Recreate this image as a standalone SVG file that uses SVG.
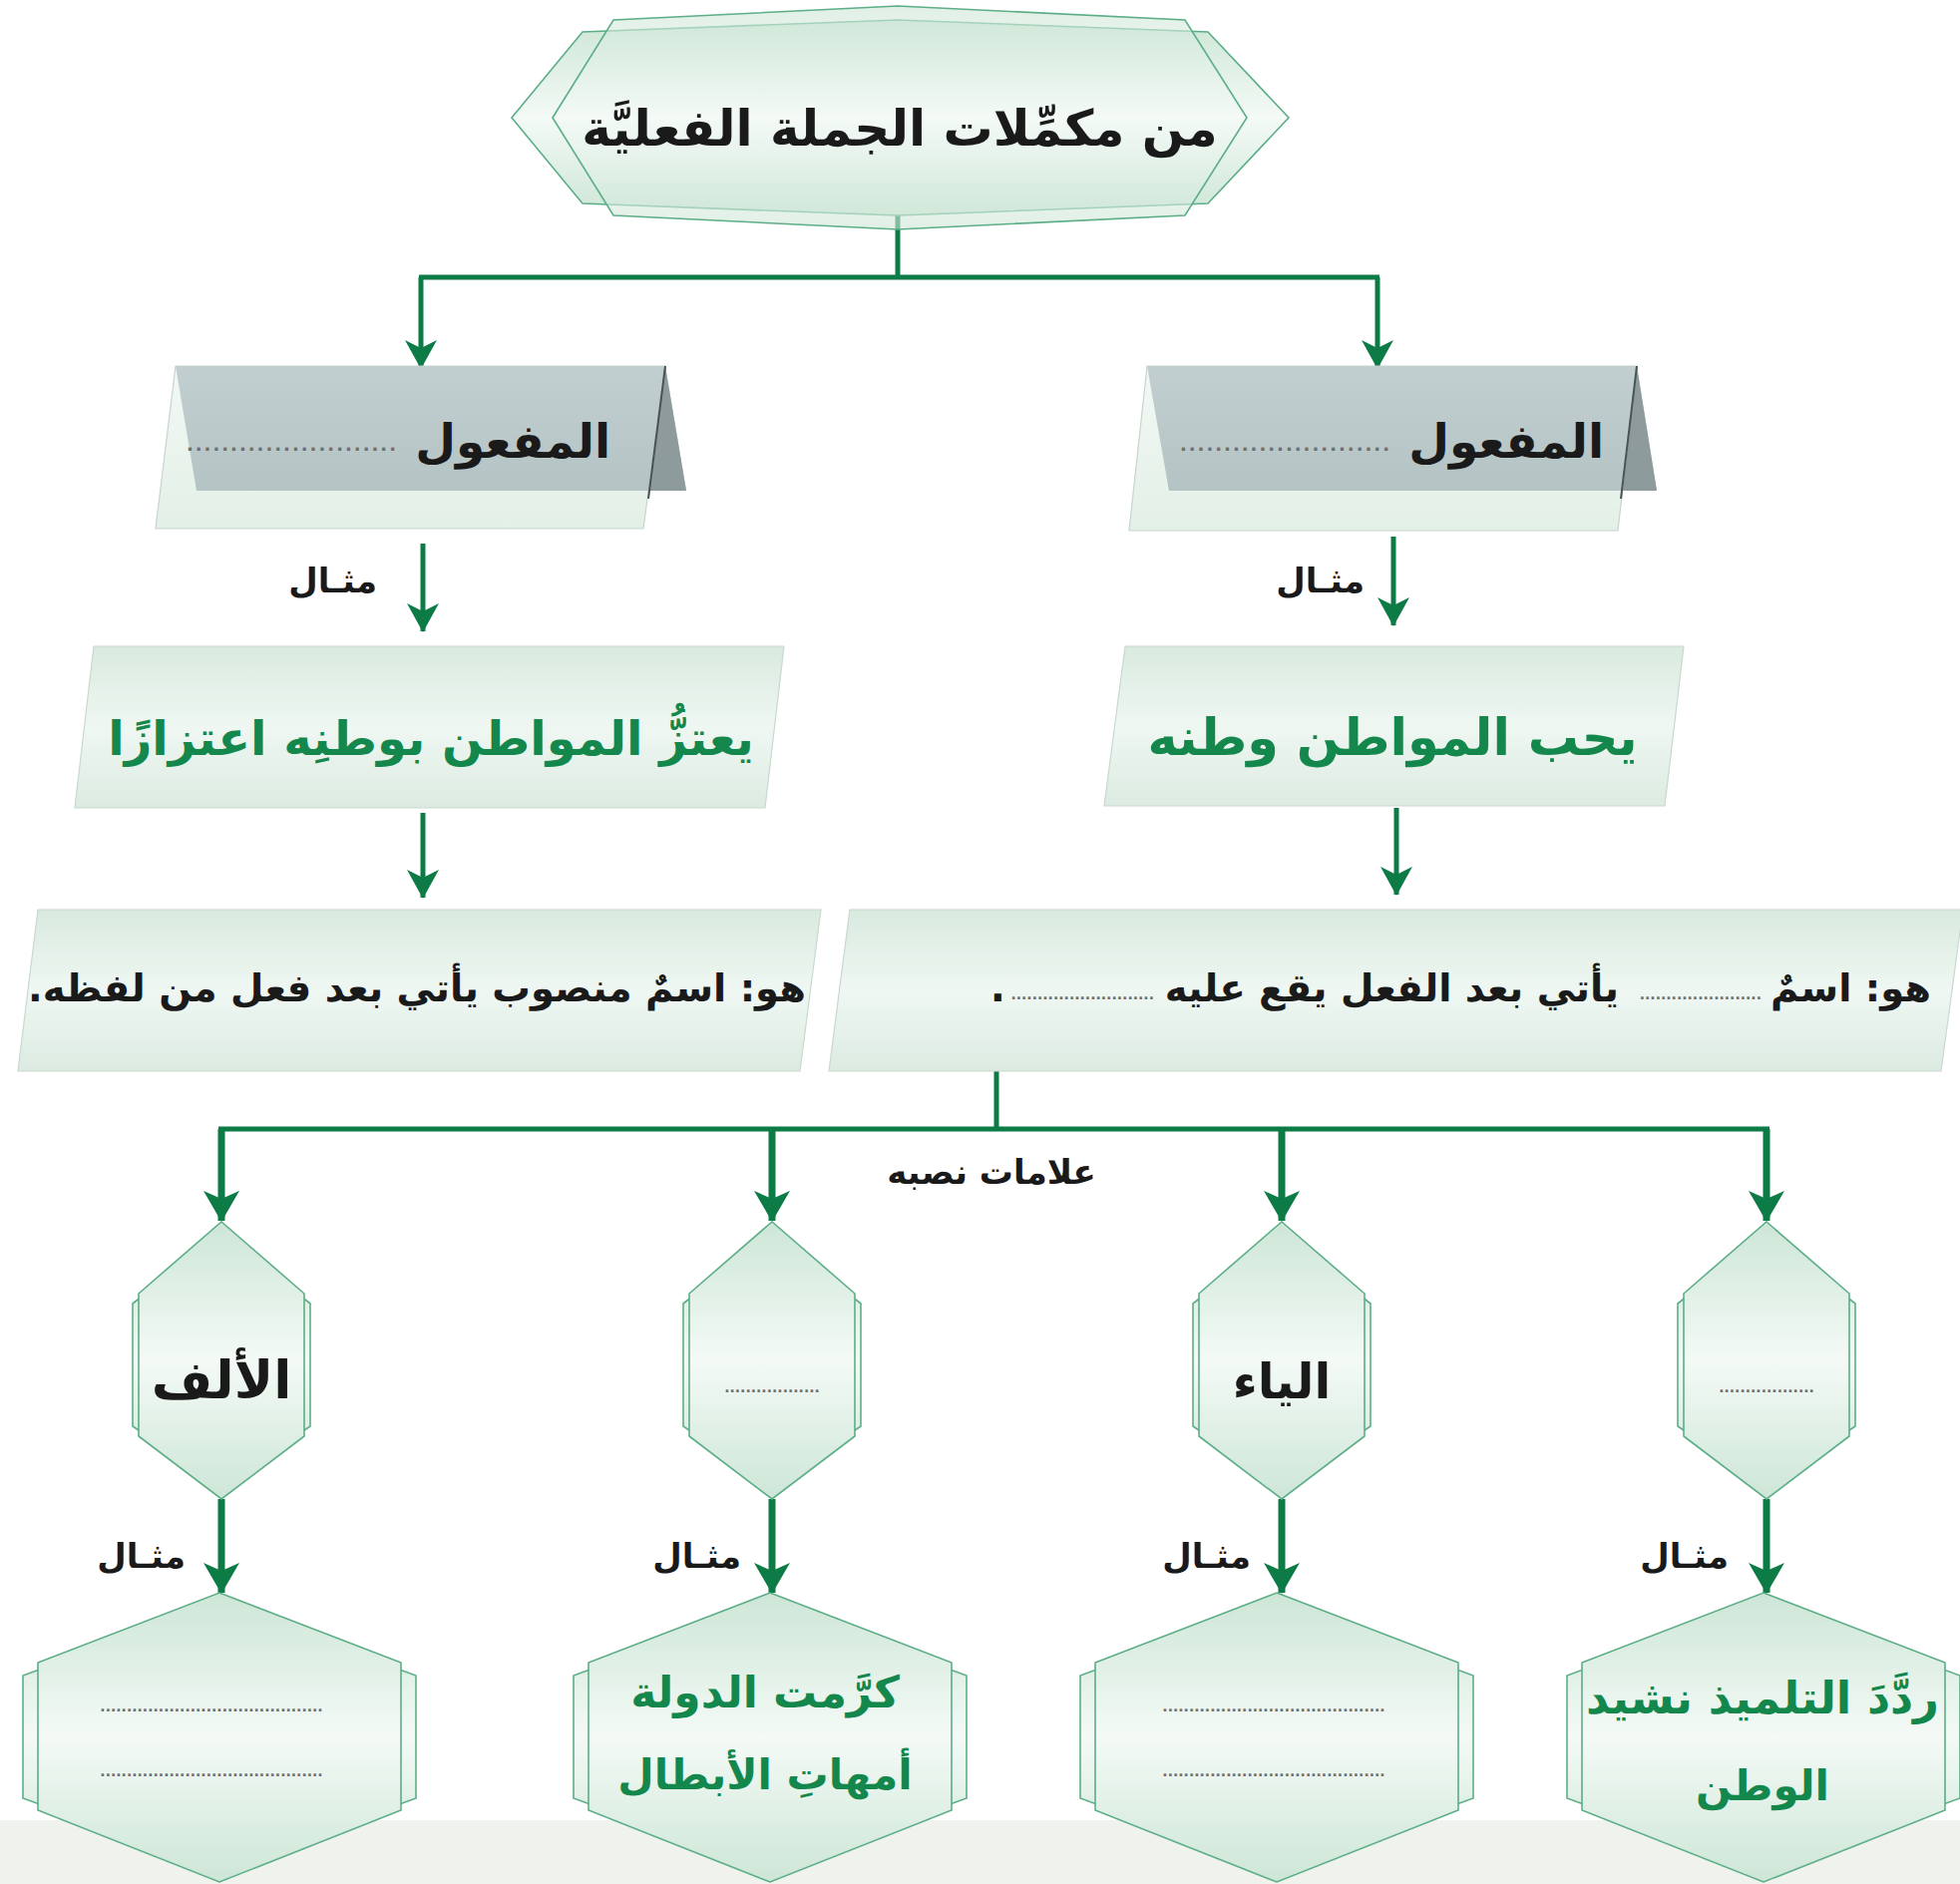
<svg xmlns="http://www.w3.org/2000/svg" width="1965" height="1889" viewBox="0 0 1965 1889">
<defs>
<linearGradient id="hexG" x1="0" y1="0" x2="0" y2="1">
<stop offset="0" stop-color="#cde6d7"/><stop offset="0.5" stop-color="#f4faf6"/><stop offset="1" stop-color="#cde6d7"/>
</linearGradient>
<linearGradient id="paraG" x1="0" y1="0" x2="0" y2="1">
<stop offset="0" stop-color="#d9eadf"/><stop offset="0.5" stop-color="#eff7f2"/><stop offset="1" stop-color="#dcebe2"/>
</linearGradient>
<linearGradient id="grayG" x1="0" y1="0" x2="0" y2="1">
<stop offset="0" stop-color="#c2cfd0"/><stop offset="1" stop-color="#b4c3c4"/>
</linearGradient>
<linearGradient id="panelG" x1="0" y1="0" x2="0" y2="1">
<stop offset="0" stop-color="#f2f8f4"/><stop offset="1" stop-color="#e3f0e7"/>
</linearGradient>
<marker id="arr" viewBox="0 -17 30 34" refX="28" refY="0" markerWidth="30" markerHeight="34" markerUnits="userSpaceOnUse" orient="auto">
<path d="M0,-16 L29,0 L0,16 L8,0 z" fill="#0d7b45"/>
</marker>
<marker id="arrB" viewBox="0 -19 32 38" refX="30" refY="0" markerWidth="32" markerHeight="38" markerUnits="userSpaceOnUse" orient="auto">
<path d="M0,-18 L31,0 L0,18 L8,0 z" fill="#0d7b45"/>
</marker>
</defs>
<style>
.hx{fill:url(#hexG);stroke:#5cae86;stroke-width:1.6}
.pa{fill:url(#paraG);stroke:#c9d8cf;stroke-width:1.2}
.ln{fill:none;stroke:#0d7b45;stroke-width:5}
.lnb{fill:none;stroke:#0d7b45;stroke-width:7}
.t{font-family:"DejaVu Sans",sans-serif;font-weight:bold;fill:#1a1a1a}
.g{font-family:"DejaVu Sans",sans-serif;font-weight:bold;fill:#14874c}
.d{font-family:"DejaVu Sans",sans-serif;fill:#6f6f6f;font-weight:bold}
.lb{font-family:"DejaVu Sans",sans-serif;font-weight:bold;fill:#1a1a1a;font-size:34px}
</style>
<rect x="0" y="0" width="1965" height="1889" fill="#ffffff"/>
<rect x="0" y="1825" width="1965" height="64" fill="#eff2ed"/>

<g id="connectors">
<path class="ln" d="M900,170 V278"/>
<path class="ln" d="M420,278 H1383"/>
<path class="ln" d="M422,278 V369" marker-end="url(#arr)"/>
<path class="ln" d="M1381,278 V369" marker-end="url(#arr)"/>
<path class="ln" d="M424,545 V633" marker-end="url(#arr)"/>
<path class="ln" d="M1397,538 V627" marker-end="url(#arr)"/>
<path class="ln" d="M424,815 V900" marker-end="url(#arr)"/>
<path class="ln" d="M1400,810 V897" marker-end="url(#arr)"/>
<path class="ln" d="M999,1009 V1132"/>
<path class="ln" d="M219,1132 H1774"/>
<path class="lnb" d="M222,1132 V1224" marker-end="url(#arrB)"/>
<path class="lnb" d="M774,1132 V1224" marker-end="url(#arrB)"/>
<path class="lnb" d="M1285,1132 V1224" marker-end="url(#arrB)"/>
<path class="lnb" d="M1771,1132 V1224" marker-end="url(#arrB)"/>
<path class="lnb" d="M222,1503 V1597" marker-end="url(#arrB)"/>
<path class="lnb" d="M774,1503 V1597" marker-end="url(#arrB)"/>
<path class="lnb" d="M1285,1503 V1597" marker-end="url(#arrB)"/>
<path class="lnb" d="M1771,1503 V1597" marker-end="url(#arrB)"/>
</g>

<g id="title">
<polygon class="hx" points="513,118 584,32 900,20 1211,32 1292,118 1211,204 900,216 584,204"/>
<polygon class="hx" fill-opacity="0.6" points="554,118 615,20 900,6 1188,20 1250,118 1188,216 900,230 615,216"/>
<text class="t" x="902" y="146" font-size="50" text-anchor="middle" direction="rtl">من مكمِّلات الجملة الفعليَّة</text>
</g>

<g id="card-left">
<polygon points="176,367 667,367 645,530 156,530" fill="url(#panelG)" stroke="#c8d4cd" stroke-width="1.2"/>
<polygon points="176,367 667,367 688,492 197,492" fill="url(#grayG)"/>
<polygon points="667,367 688,492 652,492" fill="#8e9b9c"/>
<line x1="667" y1="367" x2="650" y2="500" stroke="#4a5354" stroke-width="2"/>
<text class="t" x="612" y="459" font-size="47" text-anchor="start" direction="rtl">المفعول</text>
<text class="d" x="399" y="452" font-size="18" text-anchor="end" letter-spacing="2">........................</text>
</g>

<g id="card-right">
<polygon points="1150,367 1641,367 1622,532 1132,532" fill="url(#panelG)" stroke="#c8d4cd" stroke-width="1.2"/>
<polygon points="1150,367 1641,367 1661,492 1172,492" fill="url(#grayG)"/>
<polygon points="1641,367 1661,492 1627,492" fill="#8e9b9c"/>
<line x1="1641" y1="367" x2="1625" y2="500" stroke="#4a5354" stroke-width="2"/>
<text class="t" x="1608" y="459" font-size="47" text-anchor="start" direction="rtl">المفعول</text>
<text class="d" x="1395" y="452" font-size="18" text-anchor="end" letter-spacing="2">........................</text>
</g>

<g id="label-mithal-1"><text class="lb" x="378" y="594" text-anchor="start" direction="rtl">مثـال</text></g>
<g id="label-mithal-2"><text class="lb" x="1368" y="594" text-anchor="start" direction="rtl">مثـال</text></g>

<g id="example-left">
<polygon class="pa" points="94,648 786,648 767,810 75,810"/>
<text class="g" x="432" y="757" font-size="48" text-anchor="middle" direction="rtl">يعتزُّ المواطن بوطنِه اعتزازًا</text>
</g>

<g id="example-right">
<polygon class="pa" points="1128,648 1688,648 1669,808 1107,808"/>
<text class="g" x="1396" y="757" font-size="51" text-anchor="middle" direction="rtl">يحب المواطن وطنه</text>
</g>

<g id="def-left">
<polygon class="pa" points="38,912 823,912 802,1074 18,1074"/>
<text class="t" x="418" y="1004" font-size="38.5" text-anchor="middle" direction="rtl">هو: اسمٌ منصوب يأتي بعد فعل من لفظه.</text>
</g>

<g id="def-right">
<polygon class="pa" points="852,912 1968,912 1946,1074 831,1074"/>
<text class="t" x="1936" y="1004" font-size="38.5" text-anchor="start" direction="rtl">هو: اسمٌ</text>
<text class="d" x="1766" y="1002" text-anchor="end" font-size="14">.......................</text>
<text class="t" x="1623" y="1004" font-size="38.5" text-anchor="start" direction="rtl">يأتي بعد الفعل يقع عليه</text>
<text class="d" x="1157" y="1002" text-anchor="end" font-size="14">...........................</text>
<text class="t" x="1008" y="1004" font-size="40" text-anchor="end">.</text>
</g>

<g id="label-alamat"><text class="lb" x="994" y="1187" font-size="41" text-anchor="middle" direction="rtl">علامات نصبه</text></g>

<g id="hex-alif">
<polygon class="hx" points="222,1237 311,1307 311,1430 222,1491 133,1430 133,1307"/>
<polygon class="hx" points="222,1225 305,1297 305,1440 222,1503 139,1440 139,1297"/>
<text class="t" x="222" y="1402" font-size="53" text-anchor="middle" direction="rtl">الألف</text>
</g>
<g id="hex-blank1">
<polygon class="hx" points="774,1237 863,1307 863,1430 774,1491 685,1430 685,1307"/>
<polygon class="hx" points="774,1225 857,1297 857,1440 774,1503 691,1440 691,1297"/>
<text class="d" x="774" y="1396" text-anchor="middle" font-size="14">..................</text>
</g>
<g id="hex-yaa">
<polygon class="hx" points="1285,1237 1374,1307 1374,1430 1285,1491 1196,1430 1196,1307"/>
<polygon class="hx" points="1285,1225 1368,1297 1368,1440 1285,1503 1202,1440 1202,1297"/>
<text class="t" x="1285" y="1402" font-size="49" text-anchor="middle" direction="rtl">الياء</text>
</g>
<g id="hex-blank2">
<polygon class="hx" points="1771,1237 1860,1307 1860,1430 1771,1491 1682,1430 1682,1307"/>
<polygon class="hx" points="1771,1225 1854,1297 1854,1440 1771,1503 1688,1440 1688,1297"/>
<text class="d" x="1771" y="1396" text-anchor="middle" font-size="14">..................</text>
</g>

<g id="label-mithal-3"><text class="lb" x="186" y="1572" text-anchor="start" direction="rtl">مثـال</text></g>
<g id="label-mithal-4"><text class="lb" x="743" y="1572" text-anchor="start" direction="rtl">مثـال</text></g>
<g id="label-mithal-5"><text class="lb" x="1254" y="1572" text-anchor="start" direction="rtl">مثـال</text></g>
<g id="label-mithal-6"><text class="lb" x="1733" y="1572" text-anchor="start" direction="rtl">مثـال</text></g>

<g id="ex-alif">
<polygon class="hx" points="220,1607 417,1680 417,1803 220,1875 23,1803 23,1680"/>
<polygon class="hx" points="220,1597 402,1667 402,1815 220,1887 38,1815 38,1667"/>
<text class="d" x="212" y="1716" text-anchor="middle" font-size="14">..........................................</text>
<text class="d" x="212" y="1781" text-anchor="middle" font-size="14">..........................................</text>
</g>
<g id="ex-blank1">
<polygon class="hx" points="772,1607 969,1680 969,1803 772,1875 575,1803 575,1680"/>
<polygon class="hx" points="772,1597 954,1667 954,1815 772,1887 590,1815 590,1667"/>
<text class="g" x="767" y="1712" font-size="44" text-anchor="middle" direction="rtl">كرَّمت الدولة</text>
<text class="g" x="767" y="1794" font-size="42" text-anchor="middle" direction="rtl">أمهاتِ الأبطال</text>
</g>
<g id="ex-yaa">
<polygon class="hx" points="1280,1607 1477,1680 1477,1803 1280,1875 1083,1803 1083,1680"/>
<polygon class="hx" points="1280,1597 1462,1667 1462,1815 1280,1887 1098,1815 1098,1667"/>
<text class="d" x="1277" y="1716" text-anchor="middle" font-size="14">..........................................</text>
<text class="d" x="1277" y="1781" text-anchor="middle" font-size="14">..........................................</text>
</g>
<g id="ex-blank2">
<polygon class="hx" points="1768,1607 1965,1680 1965,1803 1768,1875 1571,1803 1571,1680"/>
<polygon class="hx" points="1768,1597 1950,1667 1950,1815 1768,1887 1586,1815 1586,1667"/>
<text class="g" x="1767" y="1718" font-size="45" text-anchor="middle" direction="rtl">ردَّدَ التلميذ نشيد</text>
<text class="g" x="1767" y="1805" font-size="42" text-anchor="middle" direction="rtl">الوطن</text>
</g>
</svg>
